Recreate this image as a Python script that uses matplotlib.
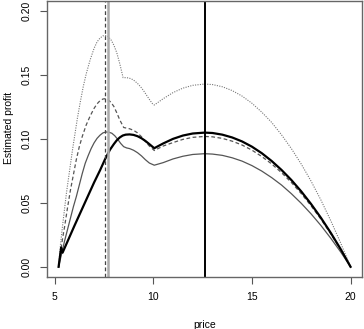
import matplotlib
matplotlib.use("Agg")
import matplotlib.pyplot as plt

plt.rcParams["font.family"] = ["Liberation Sans", "DejaVu Sans"]

# values
dotted_x = [5.2, 5.25, 5.3, 5.4, 5.5, 5.6, 5.7, 5.8, 5.9, 6.0, 6.15, 6.3, 6.45, 6.6,
            6.8, 7.0, 7.15, 7.3, 7.45, 7.55, 7.7, 7.85, 8.0, 8.15, 8.3, 8.47,
            8.6, 8.75, 8.9, 9.05, 9.2, 9.35, 9.5, 9.65, 9.8, 9.95, 10.05,
            10.5, 11, 11.5, 12, 12.6, 13, 13.5, 14, 14.5, 15, 15.5, 16, 16.5, 17,
            17.5, 18, 18.5, 19, 19.5, 20]
dotted_y = [0.0, 0.009, 0.018, 0.032, 0.045, 0.058, 0.069, 0.080, 0.091, 0.101,
            0.116, 0.129, 0.141, 0.151, 0.162, 0.171, 0.176, 0.179, 0.1807, 0.181,
            0.1803, 0.1778, 0.1735, 0.1675, 0.159, 0.148,
            0.148, 0.1478, 0.147, 0.1455, 0.1435, 0.141, 0.138, 0.1345, 0.131,
            0.1278, 0.1266,
            0.1315, 0.1363, 0.1398, 0.142, 0.143, 0.1426, 0.1409, 0.1379, 0.1336,
            0.128, 0.121, 0.113, 0.1033, 0.0925, 0.0804, 0.067, 0.0522, 0.036,
            0.0186, 0.0]

dashed_x = [5.2, 5.3, 5.4, 5.5, 5.65, 5.8, 5.95, 6.1, 6.25, 6.4, 6.6, 6.8, 7.0, 7.15,
            7.3, 7.45, 7.55, 7.7, 7.85, 8.0, 8.15, 8.3, 8.5, 8.65, 8.8, 9.0, 9.2,
            9.4, 9.6, 9.8, 10.05, 10.5, 11, 11.5, 12, 12.6, 13, 13.5, 14, 14.5, 15,
            15.5, 16, 16.5, 17, 17.5, 18, 18.5, 19, 19.5, 20]
dashed_y = [0.0, 0.012, 0.022, 0.031, 0.046, 0.060, 0.072, 0.084, 0.094, 0.102,
            0.111, 0.118, 0.124, 0.1275, 0.130, 0.1313, 0.1315, 0.1308, 0.1288,
            0.1255, 0.1205, 0.115, 0.109, 0.1085, 0.108, 0.1068, 0.1048, 0.1018,
            0.098, 0.0945, 0.091, 0.0945, 0.0972, 0.0997, 0.1013, 0.102, 0.1017,
            0.1005, 0.0983, 0.0953, 0.0913, 0.0863, 0.0805, 0.0737, 0.066, 0.0573,
            0.0477, 0.0372, 0.0257, 0.0134, 0.0]

thin_x = [5.2, 5.35, 5.5, 5.65, 5.8, 5.95, 6.1, 6.25, 6.4, 6.55, 6.7, 6.85, 7.0, 7.15,
          7.3, 7.45, 7.6, 7.75, 7.9, 8.05, 8.2, 8.35, 8.5, 8.65, 8.8, 9.0, 9.2, 9.4,
          9.6, 9.8, 10.05, 10.5, 11, 11.5, 12, 12.6, 13, 13.5, 14, 14.5, 15, 15.5,
          16, 16.5, 17, 17.5, 18, 18.5, 19, 19.5, 20]
thin_y = [0.0, 0.010, 0.020, 0.029, 0.038, 0.047, 0.055, 0.064, 0.073, 0.081, 0.087,
          0.0925, 0.097, 0.1005, 0.103, 0.1048, 0.1055, 0.1053, 0.1045, 0.1025,
          0.0997, 0.0965, 0.094, 0.093, 0.0925, 0.0912, 0.0893, 0.0868, 0.0838,
          0.0812, 0.0795, 0.0815, 0.0844, 0.0865, 0.0879, 0.0885, 0.0882, 0.0872,
          0.0853, 0.0827, 0.0792, 0.0749, 0.0698, 0.064, 0.0572, 0.0497, 0.0414,
          0.0323, 0.0223, 0.0116, 0.0]

thick_x = [5.2, 5.33, 5.4, 5.6, 6.0, 6.5, 7.0, 7.3, 7.55, 7.8, 8.0, 8.15, 8.3, 8.45,
           8.6, 8.8, 9.0, 9.2, 9.4, 9.6, 9.8, 10.05, 10.5, 11, 11.5, 12, 12.6, 13,
           13.5, 14, 14.5, 15, 15.5, 16, 16.5, 17, 17.5, 18, 18.5, 19, 19.5, 20]
thick_y = [0.0, 0.015, 0.011, 0.018, 0.032, 0.049, 0.066, 0.0755, 0.084, 0.0915,
           0.096, 0.099, 0.1012, 0.1027, 0.1034, 0.1036, 0.1032, 0.1022, 0.1006,
           0.0985, 0.096, 0.0928, 0.0965, 0.1001, 0.1027, 0.1043, 0.105, 0.1047,
           0.1034, 0.1012, 0.0981, 0.094, 0.0889, 0.0828, 0.0758, 0.0679, 0.059,
           0.0491, 0.0383, 0.0265, 0.0138, 0.0]

vline_dashed = 7.54
vline_grey = 7.71
vline_black = 12.6

fig = plt.figure(figsize=(3.64, 3.29), dpi=100)
ax = fig.add_axes([0.129, 0.158, 0.866, 0.839])

ax.plot(dotted_x, dotted_y, color="#777777", lw=0.8, ls=(0, (1, 1.2)))
ax.plot(dashed_x, dashed_y, color="#555555", lw=0.9, ls=(0, (3, 2)))
ax.plot(thin_x, thin_y, color="#555555", lw=0.9)
ax.plot(thick_x, thick_y, color="black", lw=1.6)

ax.axvline(vline_dashed, color="#444444", lw=0.9, ls=(0, (3, 2)))
ax.axvline(vline_grey, color="#aaaaaa", lw=1.8)
ax.axvline(vline_black, color="black", lw=1.4)

ax.set_xlim(4.61, 20.59)
ax.set_ylim(-0.008, 0.208)
ax.set_xticks([5, 10, 15, 20])
ax.set_yticks([0.0, 0.05, 0.10, 0.15, 0.20])
ax.set_yticklabels(["0.00", "0.05", "0.10", "0.15", "0.20"], rotation=90, va="center")

for s in ax.spines.values():
    s.set_color("#666666")
    s.set_linewidth(1.0)
ax.tick_params(direction="out", length=5, width=0.8, color="#555555",
               labelsize=7.5, pad=6)

ax.set_xlabel("price", fontsize=7.5, labelpad=13)
ax.set_ylabel("Estimated profit", fontsize=7.5, labelpad=8)
ax.yaxis.set_label_coords(-0.105, 0.54)

fig.savefig("out.png", dpi=100)
